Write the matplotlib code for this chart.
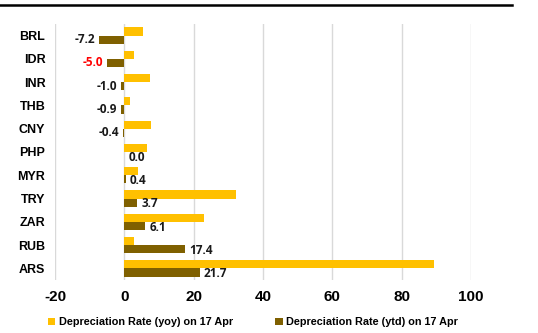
import matplotlib
matplotlib.use("Agg")
import matplotlib.pyplot as plt
import numpy as np
from matplotlib.lines import Line2D

# currency depreciation data
currencies = ["BRL", "IDR", "INR", "THB", "CNY", "PHP", "MYR", "TRY", "ZAR", "RUB", "ARS"]
yoy_rate = [5.4, 2.8, 7.4, 1.7, 7.8, 6.4, 3.9, 32.3, 23.1, 2.7, 89.3]
ytd_rate = [-7.2, -5.0, -1.0, -0.9, -0.4, 0.0, 0.4, 3.7, 6.1, 17.4, 21.7]
yoy_label = "Depreciation Rate (yoy) on 17 Apr"
ytd_label = "Depreciation Rate (ytd) on 17 Apr"
x_ticks = [-20, 0, 20, 40, 60, 80, 100]

YELLOW = "#FFC000"
BROWN = "#7F6000"

fig = plt.figure(figsize=(5.38, 3.33), dpi=100)
ax = fig.add_axes([55 / 538, 53 / 333, 416 / 538, 256 / 333])

y = np.arange(len(currencies))
h = 0.35
ax.barh(y - h / 2, yoy_rate, height=h, color=YELLOW, label=yoy_label, zorder=3)
ax.barh(y + h / 2, ytd_rate, height=h, color=BROWN, label=ytd_label, zorder=3)

for yi, v in zip(y, ytd_rate):
    col = "red" if abs(v + 5.0) < 1e-9 else "#1a1a1a"
    if v < 0:
        ax.text(v - 1.2, yi + h / 2, f"{v:.1f}", ha="right", va="center",
                fontsize=8.5, fontweight="bold", color=col, family="Open Sans")
    else:
        ax.text(v + 1.2, yi + h / 2 + 0.05, f"{v:.1f}", ha="left", va="center",
                fontsize=8.5, fontweight="bold", color=col, family="Open Sans")

ax.set_xlim(-20, 100)
ax.set_ylim(len(currencies) - 0.5, -0.5)
ax.set_yticks(y)
ax.set_yticklabels(currencies, fontsize=9, fontweight="bold", family="Liberation Sans")
ax.set_xticks(x_ticks)
ax.set_xticklabels([str(t) for t in x_ticks], fontsize=11, fontweight="bold",
                   family="Liberation Sans")
ax.tick_params(length=0)
ax.tick_params(axis="y", pad=7)
ax.tick_params(axis="x", pad=7)
ax.grid(axis="x", color="#d9d9d9", linewidth=1, zorder=0)
for s in ax.spines.values():
    s.set_visible(False)

fig.legend(loc="lower left", bbox_to_anchor=(38 / 538, -0.012), ncol=2, frameon=False,
           handlelength=0.7, handleheight=0.7, columnspacing=3.9, handletextpad=0.3,
           prop={"family": "Liberation Sans", "weight": "bold", "size": 7.8})

# rule under the heading
fig.add_artist(Line2D([0, 512 / 538], [1 - 5 / 333, 1 - 5 / 333], color="black",
                      linewidth=1.8, transform=fig.transFigure))

fig.savefig("out.png", dpi=100)
